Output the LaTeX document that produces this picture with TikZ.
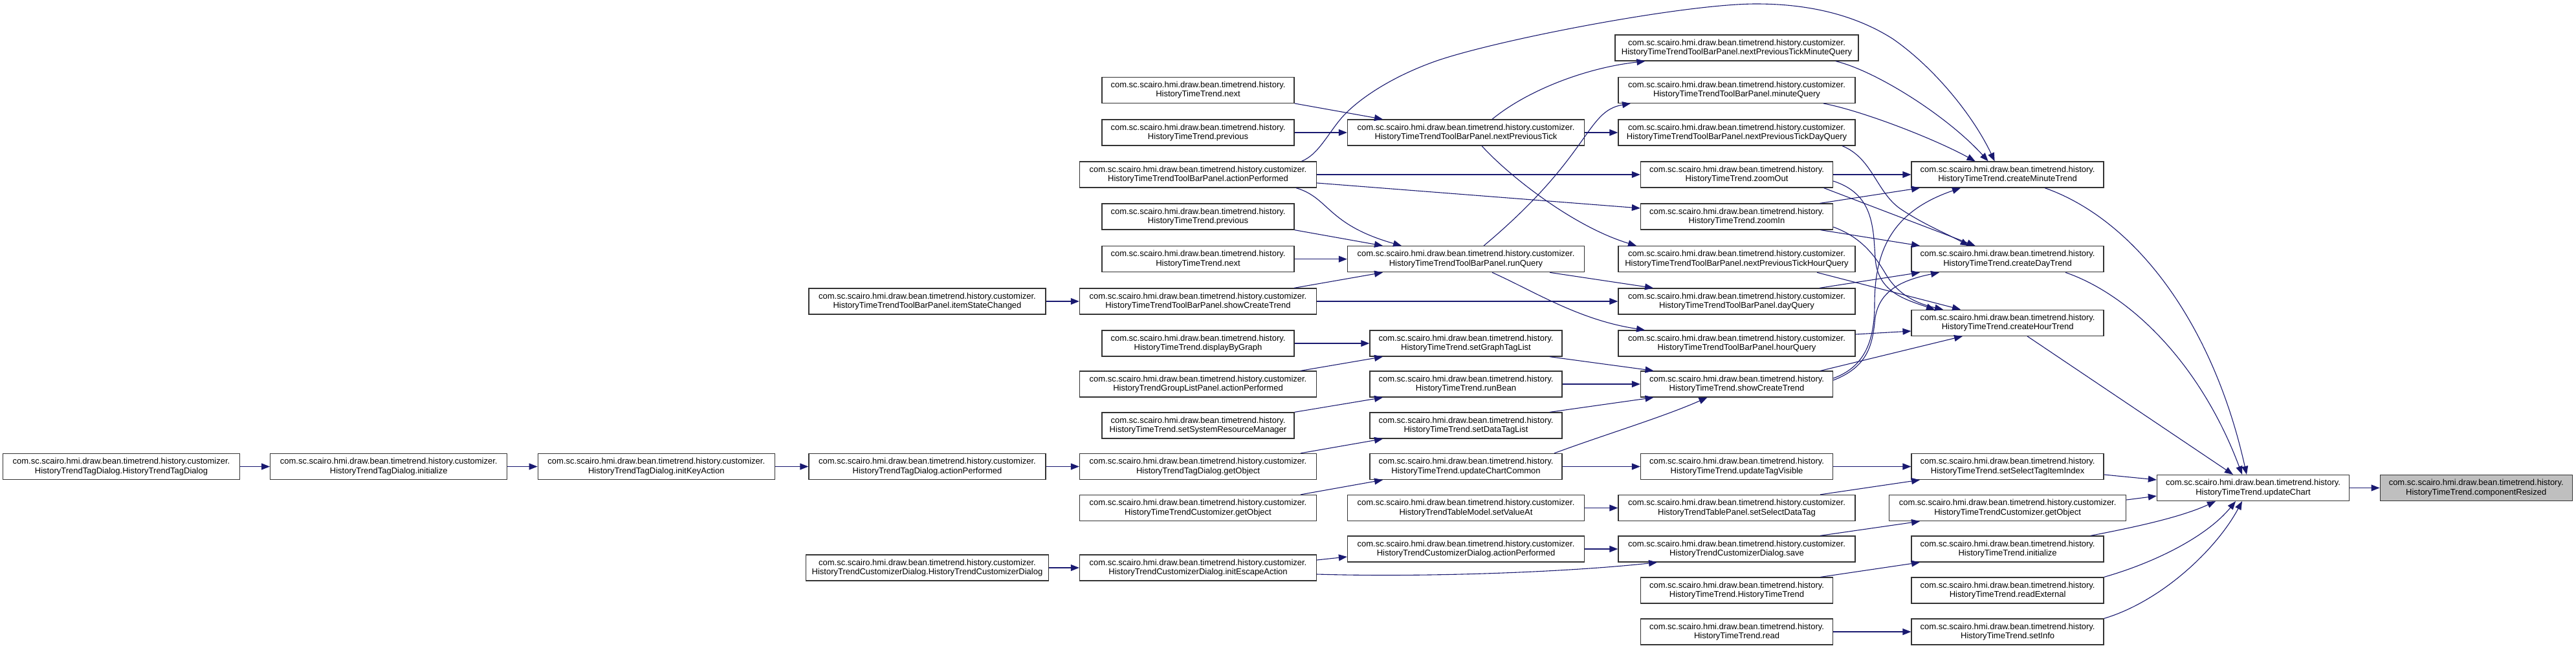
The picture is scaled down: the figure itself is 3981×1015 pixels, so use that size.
\documentclass[tikz,border=0pt]{standalone}
\usepackage{fontspec}
\setmainfont{Liberation Sans}
\usetikzlibrary{arrows.meta}

\definecolor{callblue}{HTML}{191970}
\definecolor{rootgray}{HTML}{BFBFBF}
\newcommand{\hist}{com.sc.scairo.hmi.draw.bean.timetrend.history.}
\newcommand{\cust}{\hist customizer.}

\begin{document}
\begin{tikzpicture}[
	x=1pt, y=-1pt,
	% Define the style for the boxes and the calls
	every node/.style={rectangle, draw=black!80, line width=1.3pt, fill=white, inner sep=0pt,
		minimum height=40pt, align=center, font=\fontsize{13}{14.5}\selectfont},
	hbox/.style={minimum width=297pt},
	cbox/.style={minimum width=366pt},
	call/.style={draw=callblue, line width=1.1pt, -{Triangle[length=13pt,width=10pt]}}
	]
	\useasboundingbox (0,0) rectangle (3981,1015);
	
	% --- BOXES ---
	% Format: \node (name) at (x,y) [width] {package\\method};
	
	% dialog chains on the left
	\node (tdCtor)   at (187.5, 721.5) [cbox] {\cust\\HistoryTrendTagDialog.HistoryTrendTagDialog};
	\node (tdInit)   at (600.7, 721.5) [cbox] {\cust\\HistoryTrendTagDialog.initialize};
	\node (tdKey)    at (1014.3, 721.5) [cbox] {\cust\\HistoryTrendTagDialog.initKeyAction};
	\node (tdAction) at (1433, 721.5) [cbox] {\cust\\HistoryTrendTagDialog.actionPerformed};
	\node (tbItem)   at (1433, 466) [cbox] {\cust\\HistoryTimeTrendToolBarPanel.itemStateChanged};
	\node (cdCtor)   at (1433, 878) [minimum width=375pt] {\cust\\HistoryTrendCustomizerDialog.HistoryTrendCustomizerDialog};
	
	% column 4
	\node (next1)    at (1851.5, 139.3) [hbox] {\hist\\HistoryTimeTrend.next};
	\node (prev1)    at (1851.5, 205) [hbox] {\hist\\HistoryTimeTrend.previous};
	\node (tbAction) at (1851.5, 270) [cbox] {\cust\\HistoryTimeTrendToolBarPanel.actionPerformed};
	\node (prev2)    at (1851.5, 335) [hbox] {\hist\\HistoryTimeTrend.previous};
	\node (next2)    at (1851.5, 400.7) [hbox] {\hist\\HistoryTimeTrend.next};
	\node (tbShow)   at (1851.5, 466) [cbox] {\cust\\HistoryTimeTrendToolBarPanel.showCreateTrend};
	\node (display)  at (1851.5, 531) [hbox] {\hist\\HistoryTimeTrend.displayByGraph};
	\node (glAction) at (1851.5, 594) [cbox] {\cust\\HistoryTrendGroupListPanel.actionPerformed};
	\node (setSRM)   at (1851.5, 658) [hbox] {\hist\\HistoryTimeTrend.setSystemResourceManager};
	\node (tdGet)    at (1851.5, 721.5) [cbox] {\cust\\HistoryTrendTagDialog.getObject};
	\node (custGet1) at (1851.5, 785.5) [cbox] {\cust\\HistoryTimeTrendCustomizer.getObject};
	\node (cdEsc)    at (1851.5, 878) [cbox] {\cust\\HistoryTrendCustomizerDialog.initEscapeAction};
	
	% column 5
	\node (tbNPT)     at (2265.5, 205) [cbox] {\cust\\HistoryTimeTrendToolBarPanel.nextPreviousTick};
	\node (tbRun)     at (2265.5, 400.7) [cbox] {\cust\\HistoryTimeTrendToolBarPanel.runQuery};
	\node (setGraph)  at (2265.5, 531) [hbox] {\hist\\HistoryTimeTrend.setGraphTagList};
	\node (runBean)   at (2265.5, 594) [hbox] {\hist\\HistoryTimeTrend.runBean};
	\node (setData)   at (2265.5, 658) [hbox] {\hist\\HistoryTimeTrend.setDataTagList};
	\node (updCommon) at (2265.5, 721.5) [hbox] {\hist\\HistoryTimeTrend.updateChartCommon};
	\node (tmSet)     at (2265.5, 785.5) [cbox] {\cust\\HistoryTrendTableModel.setValueAt};
	\node (cdAction)  at (2265.5, 849) [cbox] {\cust\\HistoryTrendCustomizerDialog.actionPerformed};
	
	% column 6
	\node (tbNPTMin)   at (2684, 74) [minimum width=376pt] {\cust\\HistoryTimeTrendToolBarPanel.nextPreviousTickMinuteQuery};
	\node (tbMin)      at (2684, 139.3) [cbox] {\cust\\HistoryTimeTrendToolBarPanel.minuteQuery};
	\node (tbNPTDay)   at (2684, 205) [cbox] {\cust\\HistoryTimeTrendToolBarPanel.nextPreviousTickDayQuery};
	\node (zoomOut)    at (2684, 270) [hbox] {\hist\\HistoryTimeTrend.zoomOut};
	\node (zoomIn)     at (2684, 335) [hbox] {\hist\\HistoryTimeTrend.zoomIn};
	\node (tbNPTHour)  at (2684, 400.7) [cbox] {\cust\\HistoryTimeTrendToolBarPanel.nextPreviousTickHourQuery};
	\node (tbDay)      at (2684, 466) [cbox] {\cust\\HistoryTimeTrendToolBarPanel.dayQuery};
	\node (tbHour)     at (2684, 531) [cbox] {\cust\\HistoryTimeTrendToolBarPanel.hourQuery};
	\node (showCT)     at (2684, 594) [hbox] {\hist\\HistoryTimeTrend.showCreateTrend};
	\node (updVisible) at (2684, 721.5) [hbox] {\hist\\HistoryTimeTrend.updateTagVisible};
	\node (tpSelect)   at (2684, 785.5) [cbox] {\cust\\HistoryTrendTablePanel.setSelectDataTag};
	\node (cdSave)     at (2684, 849) [cbox] {\cust\\HistoryTrendCustomizerDialog.save};
	\node (httCtor)    at (2684, 913) [hbox] {\hist\\HistoryTimeTrend.HistoryTimeTrend};
	\node (read)       at (2684, 977) [hbox] {\hist\\HistoryTimeTrend.read};
	
	% column 7
	\node (createMin)  at (3102.6, 270) [hbox] {\hist\\HistoryTimeTrend.createMinuteTrend};
	\node (createDay)  at (3102.6, 400.7) [hbox] {\hist\\HistoryTimeTrend.createDayTrend};
	\node (createHour) at (3102.6, 499.3) [hbox] {\hist\\HistoryTimeTrend.createHourTrend};
	\node (setSelIdx)  at (3102.6, 721.5) [hbox] {\hist\\HistoryTimeTrend.setSelectTagItemIndex};
	\node (custGet2)   at (3102.6, 785.5) [cbox] {\cust\\HistoryTimeTrendCustomizer.getObject};
	\node (httInit)    at (3102.6, 849) [hbox] {\hist\\HistoryTimeTrend.initialize};
	\node (readExt)    at (3102.6, 913) [hbox] {\hist\\HistoryTimeTrend.readExternal};
	\node (setInfo)    at (3102.6, 977) [hbox] {\hist\\HistoryTimeTrend.setInfo};
	
	% the two on the right
	\node (updChart) at (3482, 754.5) [hbox] {\hist\\HistoryTimeTrend.updateChart};
	\node (compRes)  at (3826.7, 754.5) [hbox, fill=rootgray] {\hist\\HistoryTimeTrend.componentResized};
	
	% --- CALLS ---
	% straight ones between boxes on the same row
	\draw[call] (tdCtor) -- (tdInit);
	\draw[call] (tdInit) -- (tdKey);
	\draw[call] (tdKey) -- (tdAction);
	\draw[call] (tdAction) -- (tdGet);
	\draw[call] (tbItem) -- (tbShow);
	\draw[call] (cdCtor) -- (cdEsc);
	\draw[call] (prev1) -- (tbNPT);
	\draw[call] (tbAction) -- (zoomOut);
	\draw[call] (next2) -- (tbRun);
	\draw[call] (tbShow) -- (tbDay);
	\draw[call] (display) -- (setGraph);
	\draw[call] (tbNPT) -- (tbNPTDay);
	\draw[call] (runBean) -- (showCT);
	\draw[call] (updCommon) -- (updVisible);
	\draw[call] (tmSet) -- (tpSelect);
	\draw[call] (cdAction) -- (cdSave);
	\draw[call] (zoomOut) -- (createMin);
	\draw[call] (updVisible) -- (setSelIdx);
	\draw[call] (read) -- (setInfo);
	\draw[call] (updChart) -- (compRes);
	
	% slanted ones
	\draw[call] (next1.south east) -- ([xshift=-128.5pt]tbNPT.north);
	\draw[call] (prev2.south east) -- ([xshift=-128.5pt]tbRun.north);
	\draw[call] ([xshift=148.5pt]tbShow.north) -- ([xshift=-128.5pt]tbRun.south);
	\draw[call] ([yshift=-13pt]tbAction.east) -- ([yshift=13pt]zoomIn.west);
	\draw[call] ([xshift=158.5pt]glAction.north) -- ([xshift=-128.5pt]setGraph.south);
	\draw[call] (setSRM.north east) -- ([xshift=-128.5pt]runBean.south);
	\draw[call] ([xshift=158.5pt]tdGet.north) -- ([xshift=-128.5pt]setData.south);
	\draw[call] ([xshift=158.5pt]custGet1.north) -- ([xshift=-128.5pt]updCommon.south);
	\draw[call] ([xshift=129.5pt]setGraph.south) -- ([xshift=-128.5pt]showCT.north);
	\draw[call] ([xshift=129.5pt]setData.north) -- ([xshift=-128.5pt]showCT.south);
	\draw[call] ([xshift=129.5pt]tbRun.south) -- ([xshift=-129pt]tbDay.north);
	\draw[call] ([yshift=12pt]cdEsc.east) -- ([yshift=-12pt]cdAction.west);
	\draw[call] ([xshift=129pt]tpSelect.north) -- ([xshift=-135.6pt]setSelIdx.south);
	\draw[call] ([xshift=129pt]cdSave.north) -- ([xshift=-135.6pt]custGet2.south);
	\draw[call] ([xshift=129.5pt]httCtor.north) -- ([xshift=-135.6pt]httInit.south);
	\draw[call] ([xshift=128.5pt]zoomIn.north) -- ([xshift=-135.6pt]createMin.south);
	\draw[call] ([xshift=134.5pt]zoomOut.south) -- ([xshift=-50pt]createDay.north);
	\draw[call] ([xshift=129.5pt]zoomIn.south) -- ([xshift=-135.6pt]createDay.north);
	\draw[call] ([xshift=128pt]tbDay.north) -- ([xshift=-135.6pt]createDay.south);
	\draw[call] ([xshift=124pt]tbNPTHour.south) -- ([xshift=-72.6pt]createHour.north);
	\draw[call] ([yshift=14pt]tbHour.east) -- ([yshift=-12.7pt]createHour.west);
	\draw[call] ([xshift=129.5pt]showCT.north) -- ([xshift=-69.6pt]createHour.south);
	\draw[call] ([xshift=30.4pt]createHour.south) -- ([xshift=-31pt]updChart.north);
	\draw[call] ([yshift=-12.5pt]setSelIdx.east) -- ([yshift=12.5pt]updChart.west);
	\draw[call] ([yshift=12.5pt]custGet2.east) -- ([yshift=-12.5pt]updChart.west);
	
	% curved ones
	\draw[call] ([xshift=160pt]tbAction.north) .. controls (2040,238) and (2055,200) .. (2080,175)
		.. controls (2105,150) and (2150,120) .. (2212,97)
		.. controls (2300,64) and (2600,6) .. (2714,6)
		.. controls (2800,6) and (2870,25) .. (2925,60)
		.. controls (2990,105) and (3050,180) .. ([xshift=-20pt]createMin.north);
	\draw[call] ([xshift=151.5pt]tbAction.south) .. controls (2055,306) and (2050,347) .. ([xshift=-99.5pt]tbRun.north);
	\draw[call] ([xshift=40.5pt]tbNPT.north) .. controls (2360,140) and (2450,105) .. ([xshift=-141.6pt]tbNPTMin.south);
	\draw[call] ([xshift=24.5pt]tbNPT.south) .. controls (2330,270) and (2430,350) .. ([xshift=-155pt]tbNPTHour.north);
	\draw[call] ([xshift=27.5pt]tbRun.north) .. controls (2460,240) and (2450,172) .. ([xshift=-164pt]tbMin.south);
	\draw[call] ([xshift=40.5pt]tbRun.south) .. controls (2370,450) and (2440,495) .. ([xshift=-142pt]tbHour.north);
	\draw[call] ([xshift=136.5pt]updCommon.north) .. controls (2480,672) and (2570,645) .. ([xshift=-45.5pt]showCT.south);
	\draw[call] ([yshift=-10pt]cdEsc.east) .. controls (2200,893) and (2420,885) .. ([xshift=-123pt]cdSave.south);
	\draw[call] ([xshift=153pt]tbNPTMin.south) .. controls (2900,110) and (3010,180) .. ([xshift=-30pt]createMin.north);
	\draw[call] ([xshift=134pt]tbMin.south) .. controls (2880,172) and (2990,215) .. ([xshift=-50pt]createMin.north);
	\draw[call] ([xshift=163pt]tbNPTDay.south) .. controls (2895,245) and (2900,300) .. (2940,325)
		.. controls (2975,348) and (3010,362) .. ([xshift=-60pt]createDay.north);
	\draw[call] ([yshift=9pt]showCT.east) .. controls (2880,568) and (2897,530) .. (2897,470)
		.. controls (2897,380) and (2930,325) .. ([xshift=-72.6pt]createMin.south);
	\draw[call] ([yshift=6pt]showCT.east) .. controls (2885,568) and (2893,535) .. (2897,500)
		.. controls (2900,455) and (2930,435) .. ([xshift=-105.6pt]createDay.south);
	\draw[call] ([yshift=-10pt]zoomOut.east) .. controls (2895,300) and (2895,350) .. (2898,400)
		.. controls (2902,450) and (2940,462) .. ([xshift=-112.6pt]createHour.north);
	\draw[call] ([yshift=-16pt]zoomIn.east) .. controls (2880,368) and (2900,400) .. (2915,425)
		.. controls (2935,458) and (2965,470) .. ([xshift=-99.6pt]createHour.north);
	\draw[call] ([xshift=57.4pt]createMin.south) .. controls (3300,340) and (3420,500) .. ([xshift=-10pt]updChart.north);
	\draw[call] ([xshift=89.4pt]createDay.south) .. controls (3290,455) and (3400,560) .. ([xshift=-17pt]updChart.north);
	\draw[call] ([xshift=128.4pt]httInit.north) .. controls (3300,815) and (3370,800) .. ([xshift=-58pt]updChart.south);
	\draw[call] (readExt.north east) .. controls (3330,870) and (3410,830) .. ([xshift=-27pt]updChart.south);
	\draw[call] (setInfo.north east) .. controls (3340,930) and (3425,850) .. ([xshift=-17pt]updChart.south);
	
\end{tikzpicture}
\end{document}
